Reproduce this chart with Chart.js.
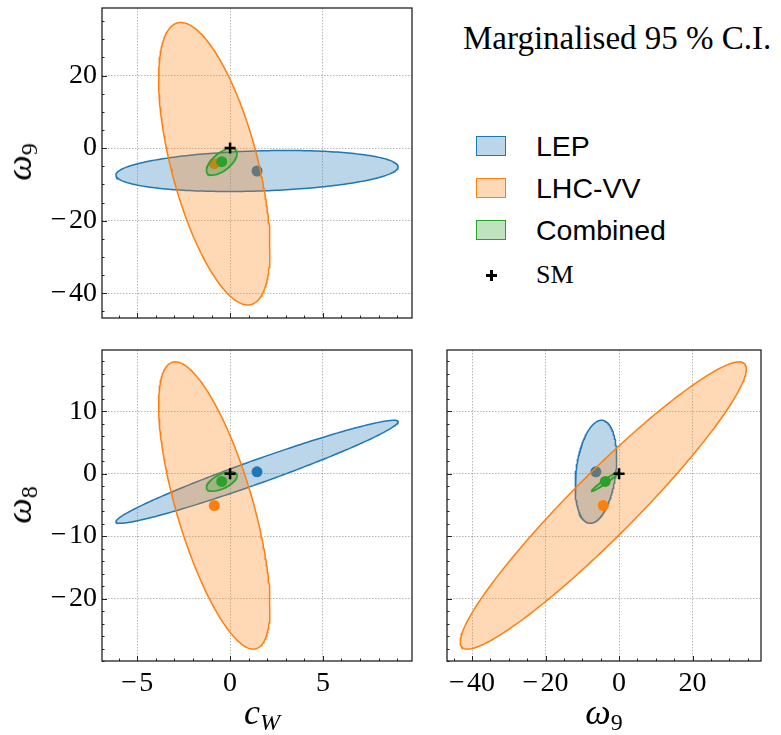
<!DOCTYPE html>
<html>
<head>
<meta charset="utf-8">
<script src="https://cdn.jsdelivr.net/npm/chart.js@4/dist/chart.umd.min.js"></script>
<style>
  body { margin: 0; background: #fff; }
  #page { position: relative; width: 781px; height: 735px; overflow: hidden; font-family: 'Liberation Serif', serif; color: #000; }
  canvas { position: absolute; }
  .axlbl { position: absolute; font-style: italic; font-size: 36px; line-height: 36px; white-space: nowrap; transform: translate(-50%, -50%); }
  .axlbl.rot { transform: translate(-50%, -50%) rotate(-90deg); }
  .axlbl sub { font-size: 24px; vertical-align: -6px; font-style: normal; }
  .axlbl sub.it { font-style: italic; }
  #title { position: absolute; left: 463px; top: 22px; font-size: 33px; line-height: 33px; white-space: nowrap; }
  .patch { position: absolute; left: 476px; width: 28px; height: 18px; border: 1.5px solid; }
  .ltxt { position: absolute; left: 536px; font-family: 'Liberation Sans', sans-serif; font-size: 28.5px; line-height: 21px; white-space: nowrap; }
  .smtxt { position: absolute; left: 536px; font-size: 26px; line-height: 26px; }
  .bar { position: absolute; background: #000; }
</style>
</head>
<body>
<div id="page">
  <canvas id="tl" width="420" height="330" style="left:0;top:0"></canvas>
  <canvas id="bl" width="420" height="395" style="left:0;top:340px"></canvas>
  <canvas id="br" width="361" height="395" style="left:420px;top:340px"></canvas>

  <div class="axlbl rot" style="left:24px;top:162px">ω<sub>9</sub></div>
  <div class="axlbl rot" style="left:24px;top:505px">ω<sub>8</sub></div>
  <div class="axlbl" style="left:262px;top:717px">c<sub class="it">W</sub></div>
  <div class="axlbl" style="left:604px;top:717px">ω<sub>9</sub></div>

  <div id="title">Marginalised 95 % C.I.</div>

  <div class="patch" style="top:136px;background:rgba(31,119,180,0.3);border-color:#1f77b4"></div>
  <div class="ltxt" style="top:136px">LEP</div>
  <div class="patch" style="top:178px;background:rgba(255,127,14,0.3);border-color:#ff7f0e"></div>
  <div class="ltxt" style="top:178px">LHC-VV</div>
  <div class="patch" style="top:220px;background:rgba(44,160,44,0.3);border-color:#2ca02c"></div>
  <div class="ltxt" style="top:220px">Combined</div>
  <div class="bar" style="left:486px;top:274px;width:11px;height:2.5px"></div>
  <div class="bar" style="left:490.3px;top:270px;width:2.5px;height:11px"></div>
  <div class="smtxt" style="top:262px">SM</div>
</div>

<script>
// parameters, in the order (cW, w9, w8)
const paramNames = ['cW', 'w9', 'w8'];
const paramRanges = [[-6.9, 9.8], [-46.8, 38.6], [-30.0, 19.8]];
const majorTicks = [[-5, 0, 5], [-40, -20, 0, 20], [-20, -10, 0, 10]];
const minorSteps = [1, 5, 2];

const fits = ['LEP', 'LHC-VV', 'Combined'];
const fitColors = ['#1f77b4', '#ff7f0e', '#2ca02c'];
const fitFills = ['rgba(31,119,180,0.3)', 'rgba(255,127,14,0.3)', 'rgba(44,160,44,0.3)'];

// best-fit point of each fit
const lepBest = [1.45, -6.3, 0.3];
const lhcBest = [-0.85, -4.3, -5.1];
const combBest = [-0.45, -3.75, -1.25];
// half-width of the marginalised 95% region for each parameter
const lepHalf = [7.6, 5.65, 8.25];
const lhcHalf = [3.0, 38.9, 23.0];
const combHalf = [0.83, 3.7, 1.55];
// correlation for the pairs (cW,w9), (cW,w8), (w9,w8)
const lepCorr = [0.2, 0.97, 0.27];
const lhcCorr = [-0.6, -0.7, 0.95];
const combCorr = [0.63, 0.6, 0.97];

const smPoint = [0, 0, 0];

const bests = [lepBest, lhcBest, combBest];
const halves = [lepHalf, lhcHalf, combHalf];
const corrs = [lepCorr, lhcCorr, combCorr];

// outline of the 2d region for params i, j (pair index k)
function ellipse(f, i, j, k) {
  const c = bests[f], h = halves[f], r = corrs[f][k];
  const pts = [];
  for (let n = 0; n <= 240; n++) {
    const t = 2 * Math.PI * n / 240;
    pts.push({
      x: c[i] + h[i] * Math.cos(t),
      y: c[j] + h[j] * (r * Math.cos(t) + Math.sqrt(1 - r * r) * Math.sin(t))
    });
  }
  return pts;
}

const fmt = v => (v < 0 ? '\u2212\u200a' + Math.abs(v) : String(v));
const tickFont = { family: "'Liberation Serif', serif", size: 28 };

// inward ticks (major + minor) and the box round the axes
const framePlugin = {
  id: 'frame',
  afterDatasetsDraw(chart, args, opts) {
    const { ctx, chartArea: a, scales } = chart;
    const x = scales.x, y = scales.y;
    ctx.save();
    ctx.strokeStyle = '#222';
    ctx.lineWidth = 1;
    ctx.beginPath();
    for (let v = Math.ceil(x.min / opts.xMinor) * opts.xMinor; v <= x.max; v += opts.xMinor) {
      const px = Math.round(x.getPixelForValue(v)) + 0.5;
      const len = opts.xMajor.includes(Math.round(v * 1000) / 1000) ? 5 : 2.5;
      ctx.moveTo(px, a.bottom);
      ctx.lineTo(px, a.bottom - len);
    }
    for (let v = Math.ceil(y.min / opts.yMinor) * opts.yMinor; v <= y.max; v += opts.yMinor) {
      const py = Math.round(y.getPixelForValue(v)) + 0.5;
      const len = opts.yMajor.includes(Math.round(v * 1000) / 1000) ? 5 : 2.5;
      ctx.moveTo(a.left, py);
      ctx.lineTo(a.left + len, py);
    }
    ctx.stroke();
    ctx.lineWidth = 1.3;
    ctx.strokeRect(a.left, a.top, a.right - a.left, a.bottom - a.top);
    ctx.restore();
  }
};

function makePanel(id, i, j, k, pad, yWidth, xHeight, showX, showY) {
  const datasets = [];
  let order = 10;
  for (let f = 0; f < fits.length; f++) {
    datasets.push({
      label: fits[f],
      data: ellipse(f, i, j, k),
      showLine: true,
      fill: 'shape',
      borderColor: fitColors[f],
      backgroundColor: fitFills[f],
      borderWidth: 1.5,
      pointRadius: 0,
      tension: 0,
      order: order--
    });
    datasets.push({
      label: fits[f] + ' best fit',
      data: [{ x: bests[f][i], y: bests[f][j] }],
      showLine: false,
      pointRadius: 5.5,
      backgroundColor: fitColors[f],
      borderWidth: 0,
      order: order--
    });
  }
  datasets.push({
    label: 'SM',
    data: [{ x: smPoint[i], y: smPoint[j] }],
    showLine: false,
    pointStyle: 'cross',
    pointRadius: 5.5,
    borderColor: '#000',
    borderWidth: 2.5,
    order: order--
  });

  const axis = (p, show, isX) => ({
    type: 'linear',
    min: paramRanges[p][0],
    max: paramRanges[p][1],
    afterBuildTicks: s => { s.ticks = majorTicks[p].map(v => ({ value: v })); },
    afterFit: s => {
      if (isX) s.height = xHeight; else s.width = yWidth;
      s.paddingLeft = 0; s.paddingRight = 0; s.paddingTop = 0; s.paddingBottom = 0;
    },
    ticks: { display: show, font: tickFont, color: '#000', padding: isX ? 6 : 5, maxRotation: 0, autoSkip: false, callback: fmt },
    grid: { color: 'rgba(0,0,0,0.28)', lineWidth: 1, drawTicks: false },
    border: { display: false, dash: [1.5, 1.5] }
  });

  return new Chart(document.getElementById(id), {
    type: 'line',
    data: { datasets },
    options: {
      responsive: false,
      animation: false,
      events: [],
      layout: { padding: pad },
      scales: { x: axis(i, showX, true), y: axis(j, showY, false) },
      plugins: {
        legend: { display: false },
        tooltip: { enabled: false },
        frame: { xMinor: minorSteps[i], yMinor: minorSteps[j], xMajor: majorTicks[i], yMajor: majorTicks[j] }
      }
    },
    plugins: [framePlugin]
  });
}

const charts = [
  makePanel('tl', 0, 1, 0, { left: 0, top: 7, right: 4, bottom: 0 }, 102, 12, false, true),
  makePanel('bl', 0, 2, 1, { left: 0, top: 10, right: 4, bottom: 0 }, 102, 74, true, true),
  makePanel('br', 1, 2, 2, { left: 0, top: 10, right: 20, bottom: 0 }, 27, 74, true, false)
];

// redraw once the serif face is surely loaded, so tick labels use it
if (document.fonts) {
  document.fonts.load('28px "Liberation Serif"').then(() => charts.forEach(c => c.update('none')));
}
</script>
</body>
</html>
